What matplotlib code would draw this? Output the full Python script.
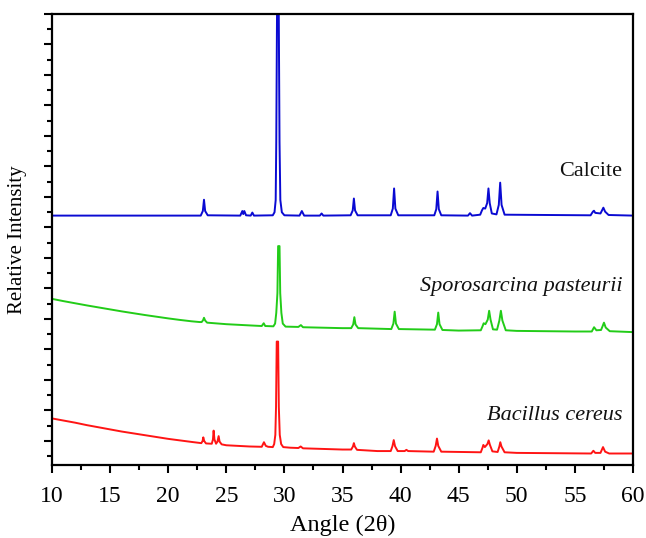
import matplotlib
matplotlib.use("Agg")
import matplotlib.pyplot as plt
from matplotlib.ticker import MultipleLocator

# ---------------- data ----------------
calcite_angle = [10.0, 22.8, 22.98, 23.08, 23.18, 23.4, 26.2, 26.38, 26.46, 26.55, 26.7,
                 27.1, 27.24, 27.38, 29.0, 29.15, 29.25, 29.30, 29.38, 29.50, 29.58,
                 29.65, 29.78, 30.0, 31.3, 31.5, 31.7, 33.05, 33.2, 33.35, 35.7, 35.88,
                 35.98, 36.08, 36.3, 39.15, 39.33, 39.44, 39.55, 39.8, 42.9, 43.07,
                 43.18, 43.29, 43.5, 45.8, 45.97, 46.15, 46.85, 47.0, 47.12, 47.28,
                 47.45, 47.56, 47.67, 47.85, 48.25, 48.45, 48.57, 48.69, 48.95, 56.35,
                 56.55, 56.64, 56.75, 57.2, 57.32, 57.45, 57.6, 57.9, 60.0]
calcite_int = [8.39, 8.39, 8.54, 8.91, 8.54, 8.40, 8.39, 8.54, 8.44, 8.54, 8.40,
               8.39, 8.49, 8.39, 8.40, 8.50, 8.90, 10.80, 16.0, 16.0, 10.80,
               8.90, 8.50, 8.40, 8.39, 8.54, 8.39, 8.39, 8.46, 8.39, 8.40, 8.56,
               8.95, 8.56, 8.40, 8.40, 8.62, 9.28, 8.62, 8.40, 8.40, 8.60,
               9.18, 8.60, 8.40, 8.39, 8.47, 8.39, 8.42, 8.56, 8.64, 8.62,
               8.80, 9.28, 8.80, 8.46, 8.43, 8.74, 9.47, 8.74, 8.42, 8.40,
               8.52, 8.55, 8.48, 8.46, 8.55, 8.65, 8.52, 8.41, 8.39]

sporo_angle = [10.0, 11.0, 12.0, 13.0, 14.0, 15.0, 16.0, 17.0, 18.0, 19.0, 20.0, 21.0,
               22.0, 22.7, 22.88, 23.0, 23.08, 23.18, 23.35, 25.0, 27.0,
               28.05, 28.22, 28.35, 29.05, 29.2, 29.3, 29.40, 29.46, 29.58, 29.64,
               29.74, 29.86, 30.1, 31.2, 31.42, 31.6, 35.0, 35.75, 35.92, 36.02,
               36.12, 36.35, 39.2, 39.38, 39.49, 39.6, 39.85, 42.95, 43.13, 43.24,
               43.35, 43.6, 45.0, 46.9, 47.05, 47.15, 47.3, 47.5, 47.62, 47.74,
               47.95, 48.3, 48.5, 48.63, 48.76, 49.05, 50.0, 55.0, 56.45, 56.65,
               56.85, 57.25, 57.38, 57.5, 57.65, 58.0, 60.0]
sporo_int = [5.66, 5.585, 5.515, 5.445, 5.38, 5.315, 5.25, 5.19, 5.13, 5.075, 5.02, 4.97,
             4.925, 4.90, 4.90, 4.96, 5.04, 4.95, 4.88, 4.83, 4.79,
             4.77, 4.86, 4.77, 4.76, 4.85, 5.20, 5.85, 7.39, 7.39, 5.85,
             5.20, 4.85, 4.75, 4.74, 4.80, 4.73, 4.70, 4.70, 4.82, 5.06,
             4.82, 4.70, 4.67, 4.85, 5.24, 4.85, 4.67, 4.65, 4.83, 5.21,
             4.83, 4.64, 4.62, 4.63, 4.76, 4.86, 4.83, 4.98, 5.27, 4.98,
             4.66, 4.65, 4.95, 5.27, 4.95, 4.63, 4.61, 4.59, 4.59, 4.73,
             4.63, 4.64, 4.76, 4.88, 4.72, 4.60, 4.57]

bacillus_angle = [10.0, 11.0, 12.0, 13.0, 14.0, 15.0, 16.0, 17.0, 18.0, 19.0, 20.0, 21.0,
                  22.0, 22.85, 22.96, 23.02, 23.1, 23.25,
                  23.75, 23.85, 23.91, 23.98, 24.12, 24.24, 24.34, 24.42, 24.6, 25.0,
                  27.0, 28.05, 28.24, 28.4, 28.6, 29.0, 29.12, 29.22, 29.28, 29.34,
                  29.46, 29.52, 29.6, 29.72, 29.9, 30.5, 31.2, 31.4, 31.6, 35.0,
                  35.75, 35.9, 35.98, 36.06, 36.25, 38.0, 39.15, 39.3, 39.41, 39.52,
                  39.75, 40.35, 40.5, 40.65, 42.85, 43.02, 43.13, 43.24, 43.5, 46.9,
                  47.05, 47.12, 47.25, 47.47, 47.58, 47.68, 47.9, 48.35, 48.5, 48.58,
                  48.68, 48.95, 50.0, 56.4, 56.59, 56.75, 57.2, 57.42, 57.6, 57.95, 60.0]
bacillus_int = [1.74, 1.67, 1.60, 1.52, 1.45, 1.38, 1.31, 1.25, 1.19, 1.13, 1.07, 1.02,
                0.97, 0.93, 1.00, 1.12, 1.00, 0.92,
                0.91, 1.05, 1.34, 1.05, 0.91, 0.98, 1.16, 0.98, 0.89, 0.86,
                0.82, 0.81, 0.96, 0.84, 0.81, 0.80, 0.90, 1.20, 2.12, 4.26,
                4.26, 2.12, 1.20, 0.90, 0.80, 0.78, 0.77, 0.82, 0.76, 0.72,
                0.72, 0.82, 0.93, 0.82, 0.71, 0.67, 0.67, 0.83, 1.03, 0.83,
                0.67, 0.67, 0.71, 0.67, 0.65, 0.84, 1.08, 0.84, 0.65, 0.63,
                0.78, 0.87, 0.80, 0.90, 1.02, 0.88, 0.66, 0.64, 0.82, 0.96,
                0.82, 0.63, 0.61, 0.59, 0.68, 0.61, 0.61, 0.80, 0.65, 0.59, 0.59]

series_labels = ["Calcite", "Sporosarcina pasteurii", "Bacillus cereus"]
label_y = [9.82, 6.05, 1.85]
x_ticks = [10, 15, 20, 25, 30, 35, 40, 45, 50, 55, 60]

# ---------------- figure ----------------
plt.rcParams['font.family'] = ['Liberation Serif', 'DejaVu Serif']
fig = plt.figure(figsize=(6.46, 5.38), dpi=100)
ax = fig.add_axes([52/646, 1 - 465/538, (633-52)/646, (465-14)/538])

ax.plot(calcite_angle, calcite_int, color='#0a0ad2', lw=1.4)
ax.plot(sporo_angle, sporo_int, color='#22cc18', lw=1.4)
ax.plot(bacillus_angle, bacillus_int, color='#ff1414', lw=1.4)

styles = ['normal', 'italic', 'italic']
for lab, yy, st in zip(series_labels, label_y, styles):
    ax.text(59.1, yy, lab, ha='right', va='center', fontsize=16,
            style=st, color='#111111')

ax.set_xlim(10, 60)
ax.set_ylim(0.213, 15)
ax.set_xticks(x_ticks)
ax.xaxis.set_minor_locator(MultipleLocator(2.5))
ax.yaxis.set_major_locator(MultipleLocator(1))
ax.yaxis.set_minor_locator(MultipleLocator(0.5))
ax.tick_params(axis='both', which='major', direction='out', length=6, width=1.5,
               labelsize=17, top=False, right=False, pad=9)
ax.tick_params(axis='both', which='minor', direction='out', length=3.5, width=1.5,
               top=False, right=False)
ax.tick_params(axis='y', which='both', labelleft=False)
for s in ax.spines.values():
    s.set_linewidth(1.6)

ax.set_xlabel('Angle (2θ)', fontsize=17.5, labelpad=6)
ax.set_ylabel('Relative Intensity', fontsize=15, labelpad=12)

fig.savefig('out.png', dpi=100)
